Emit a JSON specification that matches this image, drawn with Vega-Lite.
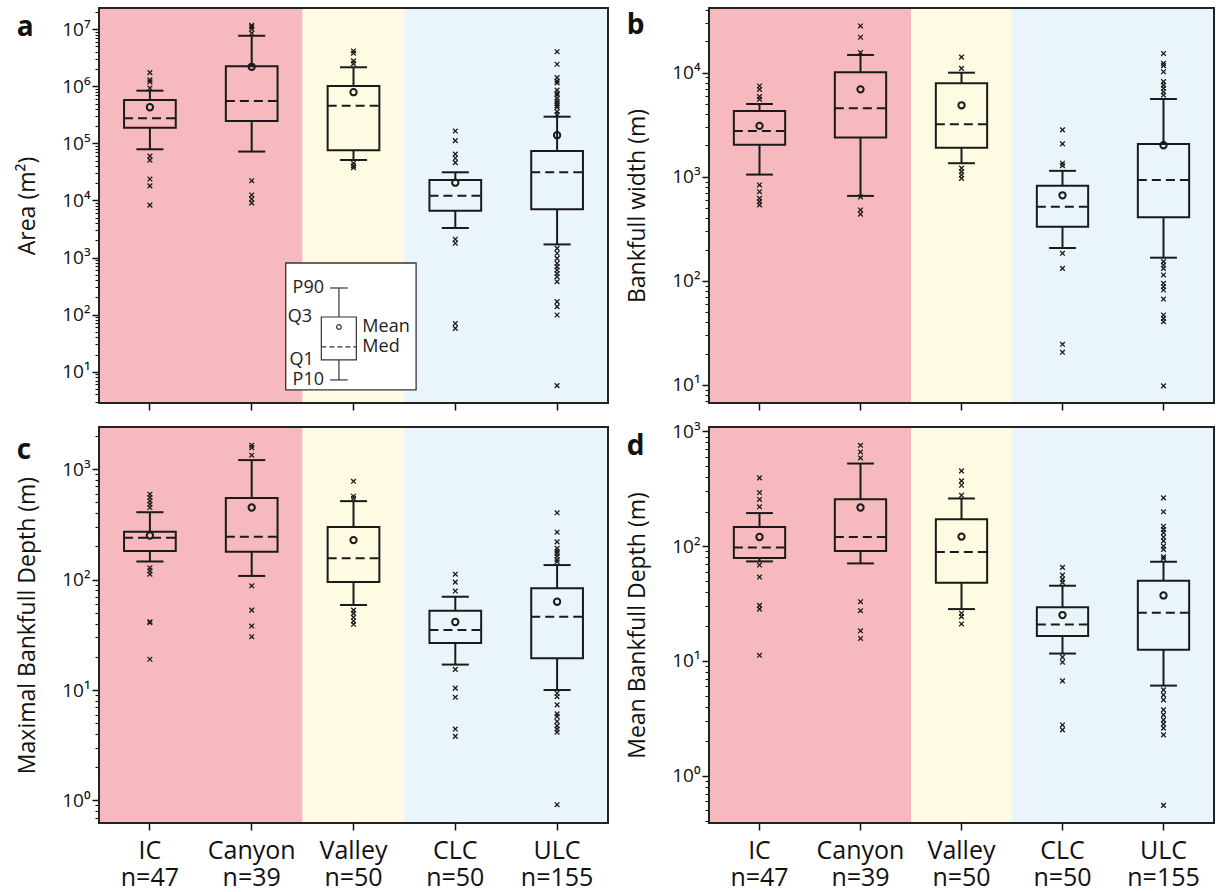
{
"$schema": "https://vega.github.io/schema/vega-lite/v6.json",
"padding": {"left": 16, "top": 1, "right": 0, "bottom": 0},
"autosize": {"type": "pad"},
"background": "white",
"config": {
  "view": {"stroke": null},
  "font": "Open Sans",
  "axis": {"labelFont": "Open Sans", "titleFont": "Open Sans", "labelColor": "#111", "titleColor": "#111", "tickColor": "#111", "titleFontWeight": "normal", "domain": false, "grid": false},
  "title": {"font": "Open Sans", "fontSize": 28, "fontWeight": "bold", "color": "#111", "anchor": "start", "frame": "bounds", "baseline": "alphabetic", "offset": -39}
},
"datasets": {
  "zones": [
    {"start": "IC n=47", "end": "Canyon n=39", "zone": "ice"}, {"start": "Valley n=50", "end": "Valley n=50", "zone": "valley"}, {"start": "CLC n=50", "end": "ULC n=155", "zone": "lake"}
  ],
  "legendbox": [{"p10": 7.18, "q1": 16.1, "med": 27.2, "mean": 60.8, "q3": 91, "p90": 293}],
  "box": [
    {"v": "area", "cat": "IC n=47", "p10": 79000, "q1": 189000, "med": 275000, "q3": 577000, "p90": 840000, "mean": 430000},
    {"v": "area", "cat": "Canyon n=39", "p10": 72000, "q1": 247000, "med": 555000, "q3": 2250000, "p90": 7700000, "mean": 2200000},
    {"v": "area", "cat": "Valley n=50", "p10": 51300, "q1": 76000, "med": 458000, "q3": 1010000, "p90": 2160000, "mean": 790000},
    {"v": "area", "cat": "CLC n=50", "p10": 3300, "q1": 6600, "med": 12100, "q3": 22900, "p90": 31200, "mean": 20500},
    {"v": "area", "cat": "ULC n=155", "p10": 1700, "q1": 7000, "med": 31200, "q3": 74000, "p90": 294000, "mean": 139000},
    {"v": "width", "cat": "IC n=47", "p10": 1050, "q1": 2030, "med": 2750, "q3": 4290, "p90": 5000, "mean": 3080},
    {"v": "width", "cat": "Canyon n=39", "p10": 655, "q1": 2390, "med": 4550, "q3": 10100, "p90": 14800, "mean": 6920},
    {"v": "width", "cat": "Valley n=50", "p10": 1350, "q1": 1900, "med": 3200, "q3": 7900, "p90": 10000, "mean": 4860},
    {"v": "width", "cat": "CLC n=50", "p10": 207, "q1": 331, "med": 516, "q3": 822, "p90": 1140, "mean": 664},
    {"v": "width", "cat": "ULC n=155", "p10": 167, "q1": 408, "med": 931, "q3": 2070, "p90": 5590, "mean": 2010},
    {"v": "maxd", "cat": "IC n=47", "p10": 146, "q1": 182, "med": 239, "q3": 271, "p90": 408, "mean": 251},
    {"v": "maxd", "cat": "Canyon n=39", "p10": 108, "q1": 179, "med": 244, "q3": 550, "p90": 1210, "mean": 450},
    {"v": "maxd", "cat": "Valley n=50", "p10": 58.9, "q1": 95, "med": 156, "q3": 300, "p90": 514, "mean": 228},
    {"v": "maxd", "cat": "CLC n=50", "p10": 17, "q1": 26.7, "med": 35, "q3": 52.3, "p90": 70, "mean": 41.3},
    {"v": "maxd", "cat": "ULC n=155", "p10": 10, "q1": 19.4, "med": 46.1, "q3": 83.4, "p90": 135.5, "mean": 63},
    {"v": "meand", "cat": "IC n=47", "p10": 73.6, "q1": 78.7, "med": 97.5, "q3": 147, "p90": 194, "mean": 120},
    {"v": "meand", "cat": "Canyon n=39", "p10": 70.7, "q1": 90.6, "med": 120, "q3": 256, "p90": 524, "mean": 217},
    {"v": "meand", "cat": "Valley n=50", "p10": 28.3, "q1": 48, "med": 88.7, "q3": 171, "p90": 260, "mean": 121},
    {"v": "meand", "cat": "CLC n=50", "p10": 11.6, "q1": 16.5, "med": 20.8, "q3": 29.3, "p90": 45.2, "mean": 25.1},
    {"v": "meand", "cat": "ULC n=155", "p10": 6.1, "q1": 12.5, "med": 26.3, "q3": 49.9, "p90": 73.1, "mean": 37.2}
  ],
  "out": [
    {"v": "area", "cat": "IC n=47", "val": 1740000}, {"v": "area", "cat": "IC n=47", "val": 1300000}, {"v": "area", "cat": "IC n=47", "val": 1200000}, {"v": "area", "cat": "IC n=47", "val": 930000},
    {"v": "area", "cat": "IC n=47", "val": 60000}, {"v": "area", "cat": "IC n=47", "val": 51000}, {"v": "area", "cat": "IC n=47", "val": 23800}, {"v": "area", "cat": "IC n=47", "val": 18000}, {"v": "area", "cat": "IC n=47", "val": 8300},
    {"v": "area", "cat": "Canyon n=39", "val": 11700000}, {"v": "area", "cat": "Canyon n=39", "val": 11000000}, {"v": "area", "cat": "Canyon n=39", "val": 10000000}, {"v": "area", "cat": "Canyon n=39", "val": 8500000},
    {"v": "area", "cat": "Canyon n=39", "val": 22200}, {"v": "area", "cat": "Canyon n=39", "val": 12500}, {"v": "area", "cat": "Canyon n=39", "val": 10600}, {"v": "area", "cat": "Canyon n=39", "val": 9100},
    {"v": "area", "cat": "Valley n=50", "val": 4170000}, {"v": "area", "cat": "Valley n=50", "val": 3800000}, {"v": "area", "cat": "Valley n=50", "val": 2800000}, {"v": "area", "cat": "Valley n=50", "val": 2500000},
    {"v": "area", "cat": "Valley n=50", "val": 45000}, {"v": "area", "cat": "Valley n=50", "val": 40700}, {"v": "area", "cat": "Valley n=50", "val": 37600},
    {"v": "area", "cat": "CLC n=50", "val": 165000}, {"v": "area", "cat": "CLC n=50", "val": 112000}, {"v": "area", "cat": "CLC n=50", "val": 65000}, {"v": "area", "cat": "CLC n=50", "val": 55000}, {"v": "area", "cat": "CLC n=50", "val": 46000},
    {"v": "area", "cat": "CLC n=50", "val": 2100}, {"v": "area", "cat": "CLC n=50", "val": 1780}, {"v": "area", "cat": "CLC n=50", "val": 70}, {"v": "area", "cat": "CLC n=50", "val": 57.5},
    {"v": "area", "cat": "ULC n=155", "val": 4050000}, {"v": "area", "cat": "ULC n=155", "val": 2440000}, {"v": "area", "cat": "ULC n=155", "val": 1420000}, {"v": "area", "cat": "ULC n=155", "val": 1240000}, {"v": "area", "cat": "ULC n=155", "val": 1150000},
    {"v": "area", "cat": "ULC n=155", "val": 860000}, {"v": "area", "cat": "ULC n=155", "val": 755000}, {"v": "area", "cat": "ULC n=155", "val": 710000}, {"v": "area", "cat": "ULC n=155", "val": 620000}, {"v": "area", "cat": "ULC n=155", "val": 550000},
    {"v": "area", "cat": "ULC n=155", "val": 504000}, {"v": "area", "cat": "ULC n=155", "val": 460000}, {"v": "area", "cat": "ULC n=155", "val": 430000}, {"v": "area", "cat": "ULC n=155", "val": 360000}, {"v": "area", "cat": "ULC n=155", "val": 320000},
    {"v": "area", "cat": "ULC n=155", "val": 1450}, {"v": "area", "cat": "ULC n=155", "val": 1190}, {"v": "area", "cat": "ULC n=155", "val": 970}, {"v": "area", "cat": "ULC n=155", "val": 794}, {"v": "area", "cat": "ULC n=155", "val": 693},
    {"v": "area", "cat": "ULC n=155", "val": 605}, {"v": "area", "cat": "ULC n=155", "val": 525}, {"v": "area", "cat": "ULC n=155", "val": 462}, {"v": "area", "cat": "ULC n=155", "val": 378}, {"v": "area", "cat": "ULC n=155", "val": 169},
    {"v": "area", "cat": "ULC n=155", "val": 138}, {"v": "area", "cat": "ULC n=155", "val": 98.6}, {"v": "area", "cat": "ULC n=155", "val": 5.7},
    {"v": "width", "cat": "IC n=47", "val": 7450}, {"v": "width", "cat": "IC n=47", "val": 6900}, {"v": "width", "cat": "IC n=47", "val": 5900}, {"v": "width", "cat": "IC n=47", "val": 5550},
    {"v": "width", "cat": "IC n=47", "val": 834}, {"v": "width", "cat": "IC n=47", "val": 719}, {"v": "width", "cat": "IC n=47", "val": 621}, {"v": "width", "cat": "IC n=47", "val": 577}, {"v": "width", "cat": "IC n=47", "val": 536},
    {"v": "width", "cat": "Canyon n=39", "val": 28100}, {"v": "width", "cat": "Canyon n=39", "val": 21900}, {"v": "width", "cat": "Canyon n=39", "val": 15600},
    {"v": "width", "cat": "Canyon n=39", "val": 640}, {"v": "width", "cat": "Canyon n=39", "val": 480}, {"v": "width", "cat": "Canyon n=39", "val": 437},
    {"v": "width", "cat": "Valley n=50", "val": 14100}, {"v": "width", "cat": "Valley n=50", "val": 11000},
    {"v": "width", "cat": "Valley n=50", "val": 1210}, {"v": "width", "cat": "Valley n=50", "val": 1120}, {"v": "width", "cat": "Valley n=50", "val": 1040}, {"v": "width", "cat": "Valley n=50", "val": 966},
    {"v": "width", "cat": "CLC n=50", "val": 2820}, {"v": "width", "cat": "CLC n=50", "val": 2070}, {"v": "width", "cat": "CLC n=50", "val": 1350}, {"v": "width", "cat": "CLC n=50", "val": 1280},
    {"v": "width", "cat": "CLC n=50", "val": 184}, {"v": "width", "cat": "CLC n=50", "val": 132}, {"v": "width", "cat": "CLC n=50", "val": 24.6}, {"v": "width", "cat": "CLC n=50", "val": 20.6},
    {"v": "width", "cat": "ULC n=155", "val": 15300}, {"v": "width", "cat": "ULC n=155", "val": 12300}, {"v": "width", "cat": "ULC n=155", "val": 11700}, {"v": "width", "cat": "ULC n=155", "val": 10200}, {"v": "width", "cat": "ULC n=155", "val": 8200},
    {"v": "width", "cat": "ULC n=155", "val": 7600}, {"v": "width", "cat": "ULC n=155", "val": 7080}, {"v": "width", "cat": "ULC n=155", "val": 6560}, {"v": "width", "cat": "ULC n=155", "val": 6100},
    {"v": "width", "cat": "ULC n=155", "val": 153}, {"v": "width", "cat": "ULC n=155", "val": 142}, {"v": "width", "cat": "ULC n=155", "val": 132}, {"v": "width", "cat": "ULC n=155", "val": 114}, {"v": "width", "cat": "ULC n=155", "val": 94.8},
    {"v": "width", "cat": "ULC n=155", "val": 87.9}, {"v": "width", "cat": "ULC n=155", "val": 81.7}, {"v": "width", "cat": "ULC n=155", "val": 66.9}, {"v": "width", "cat": "ULC n=155", "val": 47}, {"v": "width", "cat": "ULC n=155", "val": 43.6},
    {"v": "width", "cat": "ULC n=155", "val": 40.5}, {"v": "width", "cat": "ULC n=155", "val": 9.8},
    {"v": "maxd", "cat": "IC n=47", "val": 594}, {"v": "maxd", "cat": "IC n=47", "val": 555}, {"v": "maxd", "cat": "IC n=47", "val": 516}, {"v": "maxd", "cat": "IC n=47", "val": 482}, {"v": "maxd", "cat": "IC n=47", "val": 450},
    {"v": "maxd", "cat": "IC n=47", "val": 128}, {"v": "maxd", "cat": "IC n=47", "val": 120}, {"v": "maxd", "cat": "IC n=47", "val": 112}, {"v": "maxd", "cat": "IC n=47", "val": 41.6}, {"v": "maxd", "cat": "IC n=47", "val": 40.7}, {"v": "maxd", "cat": "IC n=47", "val": 19},
    {"v": "maxd", "cat": "Canyon n=39", "val": 1650}, {"v": "maxd", "cat": "Canyon n=39", "val": 1570}, {"v": "maxd", "cat": "Canyon n=39", "val": 1340},
    {"v": "maxd", "cat": "Canyon n=39", "val": 88}, {"v": "maxd", "cat": "Canyon n=39", "val": 53}, {"v": "maxd", "cat": "Canyon n=39", "val": 38}, {"v": "maxd", "cat": "Canyon n=39", "val": 30.4},
    {"v": "maxd", "cat": "Valley n=50", "val": 778}, {"v": "maxd", "cat": "Valley n=50", "val": 570}, {"v": "maxd", "cat": "Valley n=50", "val": 543},
    {"v": "maxd", "cat": "Valley n=50", "val": 53}, {"v": "maxd", "cat": "Valley n=50", "val": 49.5}, {"v": "maxd", "cat": "Valley n=50", "val": 45.6}, {"v": "maxd", "cat": "Valley n=50", "val": 42.2}, {"v": "maxd", "cat": "Valley n=50", "val": 39.4},
    {"v": "maxd", "cat": "CLC n=50", "val": 112}, {"v": "maxd", "cat": "CLC n=50", "val": 95}, {"v": "maxd", "cat": "CLC n=50", "val": 78.8},
    {"v": "maxd", "cat": "CLC n=50", "val": 15.4}, {"v": "maxd", "cat": "CLC n=50", "val": 10.4}, {"v": "maxd", "cat": "CLC n=50", "val": 8.6}, {"v": "maxd", "cat": "CLC n=50", "val": 4.43}, {"v": "maxd", "cat": "CLC n=50", "val": 3.8},
    {"v": "maxd", "cat": "ULC n=155", "val": 403}, {"v": "maxd", "cat": "ULC n=155", "val": 269}, {"v": "maxd", "cat": "ULC n=155", "val": 220}, {"v": "maxd", "cat": "ULC n=155", "val": 192}, {"v": "maxd", "cat": "ULC n=155", "val": 181},
    {"v": "maxd", "cat": "ULC n=155", "val": 173}, {"v": "maxd", "cat": "ULC n=155", "val": 163}, {"v": "maxd", "cat": "ULC n=155", "val": 152}, {"v": "maxd", "cat": "ULC n=155", "val": 145},
    {"v": "maxd", "cat": "ULC n=155", "val": 9.35}, {"v": "maxd", "cat": "ULC n=155", "val": 8.7}, {"v": "maxd", "cat": "ULC n=155", "val": 7.34}, {"v": "maxd", "cat": "ULC n=155", "val": 6.08}, {"v": "maxd", "cat": "ULC n=155", "val": 5.75},
    {"v": "maxd", "cat": "ULC n=155", "val": 5.19}, {"v": "maxd", "cat": "ULC n=155", "val": 4.74}, {"v": "maxd", "cat": "ULC n=155", "val": 4.43}, {"v": "maxd", "cat": "ULC n=155", "val": 4.16}, {"v": "maxd", "cat": "ULC n=155", "val": 0.914},
    {"v": "meand", "cat": "IC n=47", "val": 393}, {"v": "meand", "cat": "IC n=47", "val": 293}, {"v": "meand", "cat": "IC n=47", "val": 255}, {"v": "meand", "cat": "IC n=47", "val": 220},
    {"v": "meand", "cat": "IC n=47", "val": 68.4}, {"v": "meand", "cat": "IC n=47", "val": 53.8}, {"v": "meand", "cat": "IC n=47", "val": 30.5}, {"v": "meand", "cat": "IC n=47", "val": 28.3}, {"v": "meand", "cat": "IC n=47", "val": 11.2},
    {"v": "meand", "cat": "Canyon n=39", "val": 755}, {"v": "meand", "cat": "Canyon n=39", "val": 661}, {"v": "meand", "cat": "Canyon n=39", "val": 586},
    {"v": "meand", "cat": "Canyon n=39", "val": 32.8}, {"v": "meand", "cat": "Canyon n=39", "val": 27.4}, {"v": "meand", "cat": "Canyon n=39", "val": 18.3}, {"v": "meand", "cat": "Canyon n=39", "val": 15.7},
    {"v": "meand", "cat": "Valley n=50", "val": 452}, {"v": "meand", "cat": "Valley n=50", "val": 370}, {"v": "meand", "cat": "Valley n=50", "val": 339}, {"v": "meand", "cat": "Valley n=50", "val": 277},
    {"v": "meand", "cat": "Valley n=50", "val": 26}, {"v": "meand", "cat": "Valley n=50", "val": 24.3}, {"v": "meand", "cat": "Valley n=50", "val": 21},
    {"v": "meand", "cat": "CLC n=50", "val": 65.3}, {"v": "meand", "cat": "CLC n=50", "val": 56}, {"v": "meand", "cat": "CLC n=50", "val": 51.6}, {"v": "meand", "cat": "CLC n=50", "val": 48.3},
    {"v": "meand", "cat": "CLC n=50", "val": 10.8}, {"v": "meand", "cat": "CLC n=50", "val": 9.75}, {"v": "meand", "cat": "CLC n=50", "val": 6.7}, {"v": "meand", "cat": "CLC n=50", "val": 2.77}, {"v": "meand", "cat": "CLC n=50", "val": 2.51},
    {"v": "meand", "cat": "ULC n=155", "val": 263}, {"v": "meand", "cat": "ULC n=155", "val": 199}, {"v": "meand", "cat": "ULC n=155", "val": 149}, {"v": "meand", "cat": "ULC n=155", "val": 140}, {"v": "meand", "cat": "ULC n=155", "val": 131},
    {"v": "meand", "cat": "ULC n=155", "val": 120}, {"v": "meand", "cat": "ULC n=155", "val": 111}, {"v": "meand", "cat": "ULC n=155", "val": 100}, {"v": "meand", "cat": "ULC n=155", "val": 93.6}, {"v": "meand", "cat": "ULC n=155", "val": 80.7}, {"v": "meand", "cat": "ULC n=155", "val": 78},
    {"v": "meand", "cat": "ULC n=155", "val": 5.6}, {"v": "meand", "cat": "ULC n=155", "val": 5.06}, {"v": "meand", "cat": "ULC n=155", "val": 4.58}, {"v": "meand", "cat": "ULC n=155", "val": 3.75}, {"v": "meand", "cat": "ULC n=155", "val": 3.39},
    {"v": "meand", "cat": "ULC n=155", "val": 3.07}, {"v": "meand", "cat": "ULC n=155", "val": 2.83}, {"v": "meand", "cat": "ULC n=155", "val": 2.6}, {"v": "meand", "cat": "ULC n=155", "val": 2.27}, {"v": "meand", "cat": "ULC n=155", "val": 0.552}
  ]
},
"columns": 2,
"spacing": {"row": 24, "column": 101},
"bounds": "flush",
"concat": [
  {"width": 509, "height": 395, "title": {"text": "a"},
   "layer": [
    {"data": {"name": "zones"}, "mark": {"type": "rect"}, "encoding": {"x": {"field": "start", "type": "nominal", "title": null, "sort": null, "bandPosition": 0, "scale": {"domain": ["IC n=47", "Canyon n=39", "Valley n=50", "CLC n=50", "ULC n=155"], "paddingInner": 0, "paddingOuter": 0}, "axis": {"labels": false, "tickSize": 7, "tickWidth": 1.5, "title": null}}, "x2": {"field": "end", "bandPosition": 1}, "color": {"field": "zone", "type": "nominal", "scale": {"domain": ["ice", "valley", "lake"], "range": ["#F6BABE", "#FFFBE3", "#EAF5FB"]}, "legend": null}}},
    {"data": {"name": "box"}, "transform": [{"filter": "datum.v == 'area'"}], "mark": {"type": "rule", "color": "#1a1a1a", "strokeWidth": 2}, "encoding": {"x": {"field": "cat", "type": "nominal", "title": null}, "y": {"field": "p10", "type": "quantitative", "title": "Area (m²)", "scale": {"type": "log", "domain": [2.83, 23600000], "nice": false}, "axis": {"values": [3,4,5,6,7,8,9,10,20,30,40,50,60,70,80,90,100,200,300,400,500,600,700,800,900,1000,2000,3000,4000,5000,6000,7000,8000,9000,10000,20000,30000,40000,50000,60000,70000,80000,90000,100000,200000,300000,400000,500000,600000,700000,800000,900000,1000000,2000000,3000000,4000000,5000000,6000000,7000000,8000000,9000000,10000000,20000000], "labelExpr": "abs(log(datum.value)/LN10 - round(log(datum.value)/LN10)) < 0.001 ? '10' + substring('⁰¹²³⁴⁵⁶⁷⁸⁹', round(log(datum.value)/LN10), round(log(datum.value)/LN10) + 1) : ''", "labelOverlap": false, "labelFontSize": 19, "labelPadding": 2, "tickSize": {"condition": {"test": "abs(log(datum.value)/LN10 - round(log(datum.value)/LN10)) < 0.001", "value": 7}, "value": 4}, "tickWidth": {"condition": {"test": "abs(log(datum.value)/LN10 - round(log(datum.value)/LN10)) < 0.001", "value": 1.5}, "value": 1.1}, "titleFontSize": 23, "titlePadding": 22}}, "y2": {"field": "q1"}}},
    {"data": {"name": "box"}, "transform": [{"filter": "datum.v == 'area'"}], "mark": {"type": "rule", "color": "#1a1a1a", "strokeWidth": 2}, "encoding": {"x": {"field": "cat", "type": "nominal", "title": null}, "y": {"field": "q3", "type": "quantitative", "title": "Area (m²)"}, "y2": {"field": "p90"}}},
    {"data": {"name": "box"}, "transform": [{"filter": "datum.v == 'area'"}], "mark": {"type": "rule", "color": "#1a1a1a", "strokeWidth": 2}, "encoding": {"x": {"field": "cat", "type": "nominal", "title": null, "bandPosition": 0.367}, "x2": {"field": "cat", "bandPosition": 0.633}, "y": {"field": "p10", "type": "quantitative", "title": "Area (m²)"}}},
    {"data": {"name": "box"}, "transform": [{"filter": "datum.v == 'area'"}], "mark": {"type": "rule", "color": "#1a1a1a", "strokeWidth": 2}, "encoding": {"x": {"field": "cat", "type": "nominal", "title": null, "bandPosition": 0.367}, "x2": {"field": "cat", "bandPosition": 0.633}, "y": {"field": "p90", "type": "quantitative", "title": "Area (m²)"}}},
    {"data": {"name": "box"}, "transform": [{"filter": "datum.v == 'area'"}], "mark": {"type": "rect", "fill": "#ffffff", "fillOpacity": 0, "stroke": "#1a1a1a", "strokeWidth": 2}, "encoding": {"x": {"field": "cat", "type": "nominal", "title": null, "bandPosition": 0.246}, "x2": {"field": "cat", "bandPosition": 0.754}, "y": {"field": "q1", "type": "quantitative", "title": "Area (m²)"}, "y2": {"field": "q3"}}},
    {"data": {"name": "box"}, "transform": [{"filter": "datum.v == 'area'"}], "mark": {"type": "rule", "color": "#1a1a1a", "strokeWidth": 2, "strokeDash": [9, 5]}, "encoding": {"x": {"field": "cat", "type": "nominal", "title": null, "bandPosition": 0.246}, "x2": {"field": "cat", "bandPosition": 0.754}, "y": {"field": "med", "type": "quantitative", "title": "Area (m²)"}}},
    {"data": {"name": "box"}, "transform": [{"filter": "datum.v == 'area'"}], "mark": {"type": "point", "shape": "circle", "filled": false, "size": 40, "strokeWidth": 2, "color": "#1a1a1a", "opacity": 1}, "encoding": {"x": {"field": "cat", "type": "nominal", "title": null}, "y": {"field": "mean", "type": "quantitative", "title": "Area (m²)"}}},
    {"data": {"name": "out"}, "transform": [{"filter": "datum.v == 'area'"}], "mark": {"type": "point", "shape": "M-1,-1L1,1M-1,1L1,-1", "filled": false, "size": 22, "strokeWidth": 1.3, "color": "#1a1a1a", "opacity": 1}, "encoding": {"x": {"field": "cat", "type": "nominal", "title": null}, "y": {"field": "val", "type": "quantitative", "title": "Area (m²)"}}},
    {"data": {"values": [{}]}, "mark": {"type": "rect", "fill": "#ffffff", "stroke": "#333333", "strokeWidth": 1.3}, "encoding": {"x": {"datum": "Canyon n=39", "bandPosition": 0.834}, "x2": {"datum": "CLC n=50", "bandPosition": 0.115}, "y": {"datum": 803, "type": "quantitative"}, "y2": {"datum": 4.8}}},
    {"data": {"name": "legendbox"}, "mark": {"type": "rule", "color": "#333333", "strokeWidth": 1.2}, "encoding": {"x": {"datum": "Valley n=50", "bandPosition": 0.357}, "y": {"field": "p10", "type": "quantitative", "title": "Area (m²)"}, "y2": {"field": "q1"}}},
    {"data": {"name": "legendbox"}, "mark": {"type": "rule", "color": "#333333", "strokeWidth": 1.2}, "encoding": {"x": {"datum": "Valley n=50", "bandPosition": 0.357}, "y": {"field": "q3", "type": "quantitative", "title": "Area (m²)"}, "y2": {"field": "p90"}}},
    {"data": {"name": "legendbox"}, "mark": {"type": "rule", "color": "#333333", "strokeWidth": 1.2}, "encoding": {"x": {"datum": "Valley n=50", "bandPosition": 0.27}, "x2": {"datum": "Valley n=50", "bandPosition": 0.443}, "y": {"field": "p10", "type": "quantitative", "title": "Area (m²)"}}},
    {"data": {"name": "legendbox"}, "mark": {"type": "rule", "color": "#333333", "strokeWidth": 1.2}, "encoding": {"x": {"datum": "Valley n=50", "bandPosition": 0.27}, "x2": {"datum": "Valley n=50", "bandPosition": 0.443}, "y": {"field": "p90", "type": "quantitative", "title": "Area (m²)"}}},
    {"data": {"name": "legendbox"}, "mark": {"type": "rect", "fill": "#ffffff", "fillOpacity": 0, "stroke": "#333333", "strokeWidth": 1.2}, "encoding": {"x": {"datum": "Valley n=50", "bandPosition": 0.184}, "x2": {"datum": "Valley n=50", "bandPosition": 0.528}, "y": {"field": "q1", "type": "quantitative", "title": "Area (m²)"}, "y2": {"field": "q3"}}},
    {"data": {"name": "legendbox"}, "mark": {"type": "rule", "color": "#333333", "strokeWidth": 1.2, "strokeDash": [5, 3]}, "encoding": {"x": {"datum": "Valley n=50", "bandPosition": 0.184}, "x2": {"datum": "Valley n=50", "bandPosition": 0.528}, "y": {"field": "med", "type": "quantitative", "title": "Area (m²)"}}},
    {"data": {"name": "legendbox"}, "mark": {"type": "point", "shape": "circle", "filled": false, "size": 22, "strokeWidth": 1.2, "color": "#333333", "opacity": 1}, "encoding": {"x": {"datum": "Valley n=50", "bandPosition": 0.357}, "y": {"field": "mean", "type": "quantitative", "title": "Area (m²)"}}},
    {"data": {"name": "legendbox"}, "mark": {"type": "text", "align": "right", "baseline": "middle", "fontSize": 18, "color": "#222222"}, "encoding": {"x": {"datum": "Valley n=50", "bandPosition": 0.21}, "y": {"field": "p90", "type": "quantitative", "title": "Area (m²)"}, "text": {"value": "P90"}}},
    {"data": {"name": "legendbox"}, "mark": {"type": "text", "align": "right", "baseline": "middle", "fontSize": 18, "color": "#222222"}, "encoding": {"x": {"datum": "Valley n=50", "bandPosition": 0.092}, "y": {"field": "q3", "type": "quantitative", "title": "Area (m²)"}, "text": {"value": "Q3"}}},
    {"data": {"name": "legendbox"}, "mark": {"type": "text", "align": "right", "baseline": "middle", "fontSize": 18, "color": "#222222"}, "encoding": {"x": {"datum": "Valley n=50", "bandPosition": 0.11}, "y": {"field": "q1", "type": "quantitative", "title": "Area (m²)"}, "text": {"value": "Q1"}}},
    {"data": {"name": "legendbox"}, "mark": {"type": "text", "align": "right", "baseline": "middle", "fontSize": 18, "color": "#222222"}, "encoding": {"x": {"datum": "Valley n=50", "bandPosition": 0.21}, "y": {"field": "p10", "type": "quantitative", "title": "Area (m²)"}, "text": {"value": "P10"}}},
    {"data": {"name": "legendbox"}, "mark": {"type": "text", "align": "left", "baseline": "middle", "fontSize": 18, "color": "#222222"}, "encoding": {"x": {"datum": "Valley n=50", "bandPosition": 0.587}, "y": {"field": "mean", "type": "quantitative", "title": "Area (m²)"}, "text": {"value": "Mean"}}},
    {"data": {"name": "legendbox"}, "mark": {"type": "text", "align": "left", "baseline": "middle", "fontSize": 18, "color": "#222222"}, "encoding": {"x": {"datum": "Valley n=50", "bandPosition": 0.587}, "y": {"field": "med", "type": "quantitative", "title": "Area (m²)"}, "text": {"value": "Med"}}},
    {"data": {"values": [{}]}, "mark": {"type": "rect", "fill": "#ffffff", "fillOpacity": 0, "stroke": "#222222", "strokeWidth": 2}, "encoding": {}}
   ]},
  {"width": 505, "height": 395, "title": {"text": "b"},
   "layer": [
    {"data": {"name": "zones"}, "mark": {"type": "rect"}, "encoding": {"x": {"field": "start", "type": "nominal", "title": null, "sort": null, "bandPosition": 0, "scale": {"domain": ["IC n=47", "Canyon n=39", "Valley n=50", "CLC n=50", "ULC n=155"], "paddingInner": 0, "paddingOuter": 0}, "axis": {"labels": false, "tickSize": 7, "tickWidth": 1.5, "title": null}}, "x2": {"field": "end", "bandPosition": 1}, "color": {"field": "zone", "type": "nominal", "scale": {"domain": ["ice", "valley", "lake"], "range": ["#F6BABE", "#FFFBE3", "#EAF5FB"]}, "legend": null}}},
    {"data": {"name": "box"}, "transform": [{"filter": "datum.v == 'width'"}], "mark": {"type": "rule", "color": "#1a1a1a", "strokeWidth": 2}, "encoding": {"x": {"field": "cat", "type": "nominal", "title": null}, "y": {"field": "p10", "type": "quantitative", "title": "Bankfull width (m)", "scale": {"type": "log", "domain": [6.71, 41830], "nice": false}, "axis": {"values": [7,8,9,10,20,30,40,50,60,70,80,90,100,200,300,400,500,600,700,800,900,1000,2000,3000,4000,5000,6000,7000,8000,9000,10000,20000,30000,40000], "labelExpr": "abs(log(datum.value)/LN10 - round(log(datum.value)/LN10)) < 0.001 ? '10' + substring('⁰¹²³⁴⁵⁶⁷⁸⁹', round(log(datum.value)/LN10), round(log(datum.value)/LN10) + 1) : ''", "labelOverlap": false, "labelFontSize": 19, "labelPadding": 2, "tickSize": {"condition": {"test": "abs(log(datum.value)/LN10 - round(log(datum.value)/LN10)) < 0.001", "value": 7}, "value": 4}, "tickWidth": {"condition": {"test": "abs(log(datum.value)/LN10 - round(log(datum.value)/LN10)) < 0.001", "value": 1.5}, "value": 1.1}, "titleFontSize": 23, "titlePadding": 22}}, "y2": {"field": "q1"}}},
    {"data": {"name": "box"}, "transform": [{"filter": "datum.v == 'width'"}], "mark": {"type": "rule", "color": "#1a1a1a", "strokeWidth": 2}, "encoding": {"x": {"field": "cat", "type": "nominal", "title": null}, "y": {"field": "q3", "type": "quantitative", "title": "Bankfull width (m)"}, "y2": {"field": "p90"}}},
    {"data": {"name": "box"}, "transform": [{"filter": "datum.v == 'width'"}], "mark": {"type": "rule", "color": "#1a1a1a", "strokeWidth": 2}, "encoding": {"x": {"field": "cat", "type": "nominal", "title": null, "bandPosition": 0.367}, "x2": {"field": "cat", "bandPosition": 0.633}, "y": {"field": "p10", "type": "quantitative", "title": "Bankfull width (m)"}}},
    {"data": {"name": "box"}, "transform": [{"filter": "datum.v == 'width'"}], "mark": {"type": "rule", "color": "#1a1a1a", "strokeWidth": 2}, "encoding": {"x": {"field": "cat", "type": "nominal", "title": null, "bandPosition": 0.367}, "x2": {"field": "cat", "bandPosition": 0.633}, "y": {"field": "p90", "type": "quantitative", "title": "Bankfull width (m)"}}},
    {"data": {"name": "box"}, "transform": [{"filter": "datum.v == 'width'"}], "mark": {"type": "rect", "fill": "#ffffff", "fillOpacity": 0, "stroke": "#1a1a1a", "strokeWidth": 2}, "encoding": {"x": {"field": "cat", "type": "nominal", "title": null, "bandPosition": 0.246}, "x2": {"field": "cat", "bandPosition": 0.754}, "y": {"field": "q1", "type": "quantitative", "title": "Bankfull width (m)"}, "y2": {"field": "q3"}}},
    {"data": {"name": "box"}, "transform": [{"filter": "datum.v == 'width'"}], "mark": {"type": "rule", "color": "#1a1a1a", "strokeWidth": 2, "strokeDash": [9, 5]}, "encoding": {"x": {"field": "cat", "type": "nominal", "title": null, "bandPosition": 0.246}, "x2": {"field": "cat", "bandPosition": 0.754}, "y": {"field": "med", "type": "quantitative", "title": "Bankfull width (m)"}}},
    {"data": {"name": "box"}, "transform": [{"filter": "datum.v == 'width'"}], "mark": {"type": "point", "shape": "circle", "filled": false, "size": 40, "strokeWidth": 2, "color": "#1a1a1a", "opacity": 1}, "encoding": {"x": {"field": "cat", "type": "nominal", "title": null}, "y": {"field": "mean", "type": "quantitative", "title": "Bankfull width (m)"}}},
    {"data": {"name": "out"}, "transform": [{"filter": "datum.v == 'width'"}], "mark": {"type": "point", "shape": "M-1,-1L1,1M-1,1L1,-1", "filled": false, "size": 22, "strokeWidth": 1.3, "color": "#1a1a1a", "opacity": 1}, "encoding": {"x": {"field": "cat", "type": "nominal", "title": null}, "y": {"field": "val", "type": "quantitative", "title": "Bankfull width (m)"}}},
    {"data": {"values": [{}]}, "mark": {"type": "rect", "fill": "#ffffff", "fillOpacity": 0, "stroke": "#222222", "strokeWidth": 2}, "encoding": {}}
   ]},
  {"width": 509, "height": 396, "title": {"text": "c"},
   "layer": [
    {"data": {"name": "zones"}, "mark": {"type": "rect"}, "encoding": {"x": {"field": "start", "type": "nominal", "title": null, "sort": null, "bandPosition": 0, "scale": {"domain": ["IC n=47", "Canyon n=39", "Valley n=50", "CLC n=50", "ULC n=155"], "paddingInner": 0, "paddingOuter": 0}, "axis": {"labelExpr": "split(datum.label, ' ')", "labelFontSize": 25, "labelLineHeight": 27, "labelPadding": 8, "labelAngle": 0, "labelBaseline": "top", "tickSize": 7, "tickWidth": 1.5, "title": null}}, "x2": {"field": "end", "bandPosition": 1}, "color": {"field": "zone", "type": "nominal", "scale": {"domain": ["ice", "valley", "lake"], "range": ["#F6BABE", "#FFFBE3", "#EAF5FB"]}, "legend": null}}},
    {"data": {"name": "box"}, "transform": [{"filter": "datum.v == 'maxd'"}], "mark": {"type": "rule", "color": "#1a1a1a", "strokeWidth": 2}, "encoding": {"x": {"field": "cat", "type": "nominal", "title": null}, "y": {"field": "p10", "type": "quantitative", "title": "Maximal Bankfull Depth (m)", "scale": {"type": "log", "domain": [0.6245, 2413], "nice": false}, "axis": {"values": [0.7,0.8,0.9,1,2,3,4,5,6,7,8,9,10,20,30,40,50,60,70,80,90,100,200,300,400,500,600,700,800,900,1000,2000], "labelExpr": "abs(log(datum.value)/LN10 - round(log(datum.value)/LN10)) < 0.001 ? '10' + substring('⁰¹²³⁴⁵⁶⁷⁸⁹', round(log(datum.value)/LN10), round(log(datum.value)/LN10) + 1) : ''", "labelOverlap": false, "labelFontSize": 19, "labelPadding": 2, "tickSize": {"condition": {"test": "abs(log(datum.value)/LN10 - round(log(datum.value)/LN10)) < 0.001", "value": 7}, "value": 4}, "tickWidth": {"condition": {"test": "abs(log(datum.value)/LN10 - round(log(datum.value)/LN10)) < 0.001", "value": 1.5}, "value": 1.1}, "titleFontSize": 23, "titlePadding": 22}}, "y2": {"field": "q1"}}},
    {"data": {"name": "box"}, "transform": [{"filter": "datum.v == 'maxd'"}], "mark": {"type": "rule", "color": "#1a1a1a", "strokeWidth": 2}, "encoding": {"x": {"field": "cat", "type": "nominal", "title": null}, "y": {"field": "q3", "type": "quantitative", "title": "Maximal Bankfull Depth (m)"}, "y2": {"field": "p90"}}},
    {"data": {"name": "box"}, "transform": [{"filter": "datum.v == 'maxd'"}], "mark": {"type": "rule", "color": "#1a1a1a", "strokeWidth": 2}, "encoding": {"x": {"field": "cat", "type": "nominal", "title": null, "bandPosition": 0.367}, "x2": {"field": "cat", "bandPosition": 0.633}, "y": {"field": "p10", "type": "quantitative", "title": "Maximal Bankfull Depth (m)"}}},
    {"data": {"name": "box"}, "transform": [{"filter": "datum.v == 'maxd'"}], "mark": {"type": "rule", "color": "#1a1a1a", "strokeWidth": 2}, "encoding": {"x": {"field": "cat", "type": "nominal", "title": null, "bandPosition": 0.367}, "x2": {"field": "cat", "bandPosition": 0.633}, "y": {"field": "p90", "type": "quantitative", "title": "Maximal Bankfull Depth (m)"}}},
    {"data": {"name": "box"}, "transform": [{"filter": "datum.v == 'maxd'"}], "mark": {"type": "rect", "fill": "#ffffff", "fillOpacity": 0, "stroke": "#1a1a1a", "strokeWidth": 2}, "encoding": {"x": {"field": "cat", "type": "nominal", "title": null, "bandPosition": 0.246}, "x2": {"field": "cat", "bandPosition": 0.754}, "y": {"field": "q1", "type": "quantitative", "title": "Maximal Bankfull Depth (m)"}, "y2": {"field": "q3"}}},
    {"data": {"name": "box"}, "transform": [{"filter": "datum.v == 'maxd'"}], "mark": {"type": "rule", "color": "#1a1a1a", "strokeWidth": 2, "strokeDash": [9, 5]}, "encoding": {"x": {"field": "cat", "type": "nominal", "title": null, "bandPosition": 0.246}, "x2": {"field": "cat", "bandPosition": 0.754}, "y": {"field": "med", "type": "quantitative", "title": "Maximal Bankfull Depth (m)"}}},
    {"data": {"name": "box"}, "transform": [{"filter": "datum.v == 'maxd'"}], "mark": {"type": "point", "shape": "circle", "filled": false, "size": 40, "strokeWidth": 2, "color": "#1a1a1a", "opacity": 1}, "encoding": {"x": {"field": "cat", "type": "nominal", "title": null}, "y": {"field": "mean", "type": "quantitative", "title": "Maximal Bankfull Depth (m)"}}},
    {"data": {"name": "out"}, "transform": [{"filter": "datum.v == 'maxd'"}], "mark": {"type": "point", "shape": "M-1,-1L1,1M-1,1L1,-1", "filled": false, "size": 22, "strokeWidth": 1.3, "color": "#1a1a1a", "opacity": 1}, "encoding": {"x": {"field": "cat", "type": "nominal", "title": null}, "y": {"field": "val", "type": "quantitative", "title": "Maximal Bankfull Depth (m)"}}},
    {"data": {"values": [{}]}, "mark": {"type": "rect", "fill": "#ffffff", "fillOpacity": 0, "stroke": "#222222", "strokeWidth": 2}, "encoding": {}}
   ]},
  {"width": 505, "height": 396, "title": {"text": "d"},
   "layer": [
    {"data": {"name": "zones"}, "mark": {"type": "rect"}, "encoding": {"x": {"field": "start", "type": "nominal", "title": null, "sort": null, "bandPosition": 0, "scale": {"domain": ["IC n=47", "Canyon n=39", "Valley n=50", "CLC n=50", "ULC n=155"], "paddingInner": 0, "paddingOuter": 0}, "axis": {"labelExpr": "split(datum.label, ' ')", "labelFontSize": 25, "labelLineHeight": 27, "labelPadding": 8, "labelAngle": 0, "labelBaseline": "top", "tickSize": 7, "tickWidth": 1.5, "title": null}}, "x2": {"field": "end", "bandPosition": 1}, "color": {"field": "zone", "type": "nominal", "scale": {"domain": ["ice", "valley", "lake"], "range": ["#F6BABE", "#FFFBE3", "#EAF5FB"]}, "legend": null}}},
    {"data": {"name": "box"}, "transform": [{"filter": "datum.v == 'meand'"}], "mark": {"type": "rule", "color": "#1a1a1a", "strokeWidth": 2}, "encoding": {"x": {"field": "cat", "type": "nominal", "title": null}, "y": {"field": "p10", "type": "quantitative", "title": "Mean Bankfull Depth (m)", "scale": {"type": "log", "domain": [0.388, 1090], "nice": false}, "axis": {"values": [0.4,0.5,0.6,0.7,0.8,0.9,1,2,3,4,5,6,7,8,9,10,20,30,40,50,60,70,80,90,100,200,300,400,500,600,700,800,900,1000], "labelExpr": "abs(log(datum.value)/LN10 - round(log(datum.value)/LN10)) < 0.001 ? '10' + substring('⁰¹²³⁴⁵⁶⁷⁸⁹', round(log(datum.value)/LN10), round(log(datum.value)/LN10) + 1) : ''", "labelOverlap": false, "labelFontSize": 19, "labelPadding": 2, "tickSize": {"condition": {"test": "abs(log(datum.value)/LN10 - round(log(datum.value)/LN10)) < 0.001", "value": 7}, "value": 4}, "tickWidth": {"condition": {"test": "abs(log(datum.value)/LN10 - round(log(datum.value)/LN10)) < 0.001", "value": 1.5}, "value": 1.1}, "titleFontSize": 23, "titlePadding": 22}}, "y2": {"field": "q1"}}},
    {"data": {"name": "box"}, "transform": [{"filter": "datum.v == 'meand'"}], "mark": {"type": "rule", "color": "#1a1a1a", "strokeWidth": 2}, "encoding": {"x": {"field": "cat", "type": "nominal", "title": null}, "y": {"field": "q3", "type": "quantitative", "title": "Mean Bankfull Depth (m)"}, "y2": {"field": "p90"}}},
    {"data": {"name": "box"}, "transform": [{"filter": "datum.v == 'meand'"}], "mark": {"type": "rule", "color": "#1a1a1a", "strokeWidth": 2}, "encoding": {"x": {"field": "cat", "type": "nominal", "title": null, "bandPosition": 0.367}, "x2": {"field": "cat", "bandPosition": 0.633}, "y": {"field": "p10", "type": "quantitative", "title": "Mean Bankfull Depth (m)"}}},
    {"data": {"name": "box"}, "transform": [{"filter": "datum.v == 'meand'"}], "mark": {"type": "rule", "color": "#1a1a1a", "strokeWidth": 2}, "encoding": {"x": {"field": "cat", "type": "nominal", "title": null, "bandPosition": 0.367}, "x2": {"field": "cat", "bandPosition": 0.633}, "y": {"field": "p90", "type": "quantitative", "title": "Mean Bankfull Depth (m)"}}},
    {"data": {"name": "box"}, "transform": [{"filter": "datum.v == 'meand'"}], "mark": {"type": "rect", "fill": "#ffffff", "fillOpacity": 0, "stroke": "#1a1a1a", "strokeWidth": 2}, "encoding": {"x": {"field": "cat", "type": "nominal", "title": null, "bandPosition": 0.246}, "x2": {"field": "cat", "bandPosition": 0.754}, "y": {"field": "q1", "type": "quantitative", "title": "Mean Bankfull Depth (m)"}, "y2": {"field": "q3"}}},
    {"data": {"name": "box"}, "transform": [{"filter": "datum.v == 'meand'"}], "mark": {"type": "rule", "color": "#1a1a1a", "strokeWidth": 2, "strokeDash": [9, 5]}, "encoding": {"x": {"field": "cat", "type": "nominal", "title": null, "bandPosition": 0.246}, "x2": {"field": "cat", "bandPosition": 0.754}, "y": {"field": "med", "type": "quantitative", "title": "Mean Bankfull Depth (m)"}}},
    {"data": {"name": "box"}, "transform": [{"filter": "datum.v == 'meand'"}], "mark": {"type": "point", "shape": "circle", "filled": false, "size": 40, "strokeWidth": 2, "color": "#1a1a1a", "opacity": 1}, "encoding": {"x": {"field": "cat", "type": "nominal", "title": null}, "y": {"field": "mean", "type": "quantitative", "title": "Mean Bankfull Depth (m)"}}},
    {"data": {"name": "out"}, "transform": [{"filter": "datum.v == 'meand'"}], "mark": {"type": "point", "shape": "M-1,-1L1,1M-1,1L1,-1", "filled": false, "size": 22, "strokeWidth": 1.3, "color": "#1a1a1a", "opacity": 1}, "encoding": {"x": {"field": "cat", "type": "nominal", "title": null}, "y": {"field": "val", "type": "quantitative", "title": "Mean Bankfull Depth (m)"}}},
    {"data": {"values": [{}]}, "mark": {"type": "rect", "fill": "#ffffff", "fillOpacity": 0, "stroke": "#222222", "strokeWidth": 2}, "encoding": {}}
   ]}
]
}
